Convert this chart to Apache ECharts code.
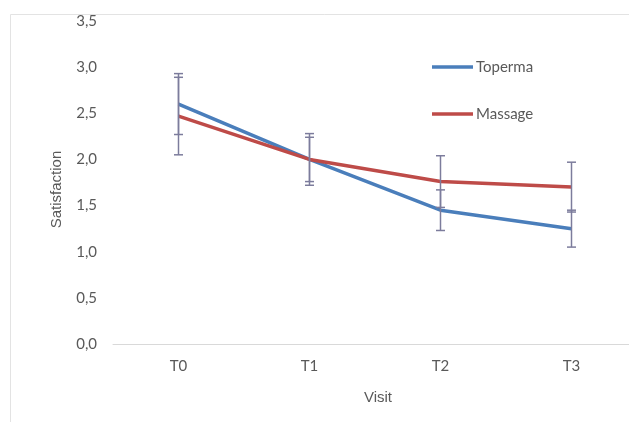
<!DOCTYPE html>
<html>
<head>
<meta charset="utf-8">
<script src="https://cdn.jsdelivr.net/npm/echarts@6/dist/echarts.min.js"></script>
<style>html,body{margin:0;padding:0;background:#fff;overflow:hidden;width:629px;height:422px}#c{width:637px;height:422px}</style>
</head>
<body>
<div id="c"></div>
<script>
var categories = ['T0', 'T1', 'T2', 'T3'];
var toperma = [2.60, 2.00, 1.45, 1.25];
var topermaErr = [0.33, 0.28, 0.22, 0.20];
var massage = [2.47, 2.00, 1.76, 1.70];
var massageErr = [0.42, 0.24, 0.28, 0.27];
var yTicks = { min: 0, max: 3.5, interval: 0.5 };

var blue = '#4a7ebb', red = '#be4b48', errColor = '#7c7c9c';

function errData(vals, errs) {
  return vals.map(function (v, i) { return [i, v - errs[i], v + errs[i]]; });
}
function errRender(params, api) {
  var x = api.value(0);
  var lo = api.coord([x, api.value(1)]);
  var hi = api.coord([x, api.value(2)]);
  var w = 4.5;
  var st = { stroke: errColor, lineWidth: 1.5 };
  return {
    type: 'group',
    children: [
      { type: 'line', shape: { x1: hi[0], y1: hi[1], x2: lo[0], y2: lo[1] }, style: st },
      { type: 'line', shape: { x1: hi[0] - w, y1: hi[1], x2: hi[0] + w, y2: hi[1] }, style: st },
      { type: 'line', shape: { x1: lo[0] - w, y1: lo[1], x2: lo[0] + w, y2: lo[1] }, style: st }
    ]
  };
}

var chart = echarts.init(document.getElementById('c'), null, { renderer: 'canvas' });
chart.setOption({
  animation: false,
  backgroundColor: '#fff',
  graphic: [{
    type: 'rect', left: 8, top: 12, silent: true, z: -10,
    shape: { width: 700, height: 500 },
    style: { fill: 'none', stroke: '#e3e3e3', lineWidth: 1 }
  }],
  grid: { left: 113, right: 0, top: 21, bottom: 78, containLabel: false },
  legend: {
    orient: 'vertical', left: 432, top: 59, padding: 0,
    icon: 'rect', itemWidth: 41, itemHeight: 3.5, itemGap: 31,
    textStyle: { fontFamily: 'Lato', fontSize: 15, color: '#595959', lineHeight: 16, padding: [0, 0, 0, -2] },
    data: ['Toperma', 'Massage']
  },
  xAxis: {
    type: 'category', data: categories, boundaryGap: true,
    name: 'Visit', nameLocation: 'middle', nameGap: 46,
    nameTextStyle: { fontFamily: 'Liberation Sans', fontSize: 15, color: '#595959', padding: [0, 0, 0, 6] },
    axisLine: { lineStyle: { color: '#d9d9d9', width: 1 } },
    axisTick: { show: false },
    axisLabel: { fontFamily: 'Lato', fontSize: 15, color: '#595959', margin: 15 }
  },
  yAxis: {
    type: 'value', min: yTicks.min, max: yTicks.max, interval: yTicks.interval,
    name: 'Satisfaction', nameLocation: 'middle', nameGap: 49, nameRotate: 90,
    nameTextStyle: { fontFamily: 'Liberation Sans', fontSize: 15, color: '#595959', padding: [0, 14, 0, 0] },
    axisLine: { show: false }, axisTick: { show: false },
    splitLine: { show: false },
    axisLabel: {
      fontFamily: 'Lato', fontSize: 15, color: '#595959', margin: 16,
      formatter: function (v) { return v.toFixed(1).replace('.', ','); }
    }
  },
  series: [
    { name: 'Toperma', type: 'line', data: toperma, showSymbol: false, symbol: 'none',
      lineStyle: { color: blue, width: 3.5 }, itemStyle: { color: blue }, z: 2 },
    { name: 'Massage', type: 'line', data: massage, showSymbol: false, symbol: 'none',
      lineStyle: { color: red, width: 3.5 }, itemStyle: { color: red }, z: 3 },
    { type: 'custom', renderItem: errRender, data: errData(toperma, topermaErr), z: 5, silent: true },
    { type: 'custom', renderItem: errRender, data: errData(massage, massageErr), z: 5, silent: true }
  ]
});
</script>
</body>
</html>
